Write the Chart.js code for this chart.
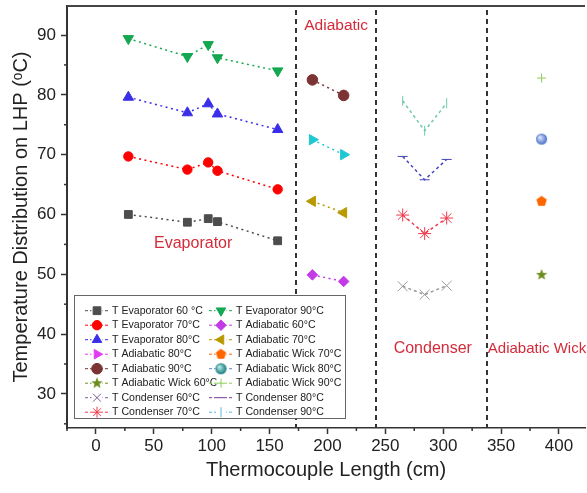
<!DOCTYPE html>
<html>
<head>
<meta charset="utf-8">
<script src="https://cdn.jsdelivr.net/npm/chart.js@4.4.0/dist/chart.umd.min.js"></script>
<style>
    html, body { margin: 0; padding: 0; background: #fff; }
</style>
</head>
<body>
<canvas id="myChart" width="587" height="493"></canvas>
<script>
// thermocouple positions (cm) in each section
const evapX = [28, 79, 97, 105, 157];
const adiaX = [187, 214];
const condX = [265, 284, 303];
const wickX = [385];

// temperatures (°C) for each heat source temperature
const evap60 = [60.0, 58.7, 59.3, 58.8, 55.6];
const evap70 = [69.7, 67.5, 68.7, 67.3, 64.2];
const evap80 = [79.6, 77.0, 78.5, 76.8, 74.2];
const evap90 = [89.4, 86.4, 88.4, 86.2, 84.0];

const adia60 = [49.9, 48.8];
const adia70 = [62.2, 60.3];
const adia80 = [72.5, 70.0];
const adia90 = [82.5, 79.9];

const wick60 = [49.9];
const wick70 = [62.2];
const wick80 = [72.6];
const wick90 = [82.8];

const cond60 = [48.0, 46.6, 48.1];
const cond70 = [59.9, 56.8, 59.4];
const cond80 = [69.7, 65.8, 69.2];
const cond90 = [79.0, 74.0, 78.6];

const xTicks = [0, 50, 100, 150, 200, 250, 300, 350, 400];
const yTicks = [30, 40, 50, 60, 70, 80, 90];
const sectionBounds = [173, 242, 338];
const sectionNames = ["Evaporator", "Adiabatic", "Condenser", "Adiabatic Wick"];

const FONT = "'Liberation Sans', Arial, sans-serif";

function makeMarker(size, draw) {
    const c = document.createElement("canvas");
    c.width = size;
    c.height = size;
    draw(c.getContext("2d"), size / 2);
    return c;
}

function pentagon(color, r) {
    return makeMarker(2 * r + 2, function (g, c) {
        g.fillStyle = color;
        g.beginPath();
        for (let i = 0; i < 5; i++) {
            const a = -Math.PI / 2 + i * 2 * Math.PI / 5;
            g.lineTo(c + r * Math.cos(a), c + r * Math.sin(a));
        }
        g.closePath();
        g.fill();
    });
}

function star(color, r) {
    return makeMarker(2 * r + 2, function (g, c) {
        g.fillStyle = color;
        g.beginPath();
        for (let i = 0; i < 10; i++) {
            const a = -Math.PI / 2 + i * Math.PI / 5;
            const rr = i % 2 ? r * 0.42 : r;
            g.lineTo(c + rr * Math.cos(a), c + rr * Math.sin(a));
        }
        g.closePath();
        g.fill();
    });
}

function sphere(light, dark, r) {
    return makeMarker(2 * r + 2, function (g, c) {
        const grad = g.createRadialGradient(c - r * 0.35, c - r * 0.35, 0.5, c, c, r);
        grad.addColorStop(0, light);
        grad.addColorStop(1, dark);
        g.fillStyle = grad;
        g.beginPath();
        g.arc(c, c, r, 0, Math.PI * 2);
        g.fill();
    });
}

function series(label, xs, ys, color, style, radius, extra) {
    const ds = {
        label: label,
        data: xs.map((x, i) => ({x: x, y: ys[i]})),
        borderColor: color,
        backgroundColor: color,
        pointBackgroundColor: color,
        pointBorderColor: color,
        pointBorderWidth: 1,
        pointStyle: style,
        pointRadius: radius,
        pointRotation: 0,
        showLine: xs.length > 1,
        borderWidth: 1.5,
        borderDash: [2, 3.5],
        legendColor: color
    };
    return Object.assign(ds, extra || {});
}

const datasets = [
    series("T Evaporator 60 \u00B0C", evapX, evap60, "#4d4d4d", "rect", 5.5),
    series("T Evaporator 70\u00B0C", evapX, evap70, "#ff0000", "circle", 4.7),
    series("T Evaporator 80\u00B0C", evapX, evap80, "#3b2ee8", "triangle", 6),
    series("T Evaporator 90\u00B0C", evapX, evap90, "#14a850", "triangle", 6, {pointRotation: 180}),
    series("T Adiabatic 60\u00B0C", adiaX, adia60, "#c23be6", "rectRot", 5.3),
    series("T Adiabatic 70\u00B0C", adiaX, adia70, "#b89a00", "triangle", 6, {pointRotation: 270}),
    series("T Adiabatic 80\u00B0C", adiaX, adia80, "#1ec8d2", "triangle", 6, {pointRotation: 90, legendColor: "#e23cf0"}),
    series("T Adiabatic 90\u00B0C", adiaX, adia90, "#7b3333", "circle", 5.3),
    series("T Adiabatic Wick 60\u00B0C", wickX, wick60, "#6b8e1f", star("#6b8e1f", 6), 6),
    series("T Adiabatic Wick 70\u00B0C", wickX, wick70, "#ff6600", pentagon("#ff6600", 5.5), 6),
    series("T Adiabatic Wick 80\u00B0C", wickX, wick80, "#5b82d6", sphere("#dfe8ff", "#4a6fc8", 5.5), 6,
        {legendStyle: sphere("#b8f0ee", "#167a7a", 5.5)}),
    series("T Adiabatic Wick 90\u00B0C", wickX, wick90, "#8ccf55", "cross", 4.5),
    series("T Condenser 60\u00B0C", condX, cond60, "#9a9a9a", "crossRot", 7, {borderDash: [3, 3], legendColor: "#7a5a9a"}),
    series("T Condenser 70\u00B0C", condX, cond70, "#ee3a4a", "star", 6.5, {borderDash: [3, 3]}),
    series("T Condenser 80\u00B0C", condX, cond80, "#4646c0", "line", 5, {borderDash: [3, 3], legendColor: "#7a3a9a"}),
    series("T Condenser 90\u00B0C", condX, cond90, "#6fcaa8", "line", 5, {pointRotation: 90, borderDash: [3, 3], legendColor: "#5ab8e0"})
];

// legend reads row by row, two columns
const legendOrder = [0, 3, 1, 4, 2, 5, 6, 9, 7, 10, 8, 11, 12, 14, 13, 15];

const legendBox = {
    id: "legendBox",
    afterDatasetsDraw(chart) {
        const ctx = chart.ctx;
        ctx.save();
        ctx.fillStyle = "#fff";
        ctx.fillRect(74, 295, 271, 123);
        ctx.strokeStyle = "#666";
        ctx.lineWidth = 1;
        ctx.strokeRect(74.5, 295.5, 271, 123);
        ctx.font = "10.6px " + FONT;
        ctx.textBaseline = "middle";
        legendOrder.forEach(function (idx, k) {
            const ds = chart.data.datasets[idx];
            const col = k % 2;
            const row = Math.floor(k / 2);
            const x0 = col ? 209 : 85;
            const y = 310.7 + row * 14.5;
            ctx.strokeStyle = ds.legendColor;
            ctx.lineWidth = 1;
            ctx.setLineDash([3, 2]);
            ctx.beginPath();
            ctx.moveTo(x0, y);
            ctx.lineTo(x0 + 24, y);
            ctx.stroke();
            ctx.setLineDash([]);
            const r = Math.min(ds.pointRadius, 5.5);
            ctx.fillStyle = "#fff";
            ctx.fillRect(x0 + 12 - r, y - r, 2 * r, 2 * r);
            ctx.fillStyle = ds.legendColor;
            Chart.helpers.drawPoint(ctx, {
                pointStyle: ds.legendStyle || ds.pointStyle,
                radius: r,
                rotation: ds.pointRotation,
                borderWidth: 1
            }, x0 + 12, y);
            ctx.fillStyle = "#222";
            ctx.fillText(ds.label, x0 + 27, y);
        });
        ctx.restore();
    }
};

const sections = {
    id: "sections",
    beforeDatasetsDraw(chart) {
        const ctx = chart.ctx;
        const xs = chart.scales.x;
        const ys = chart.scales.y;
        const area = chart.chartArea;
        ctx.save();
        ctx.strokeStyle = "#333";
        ctx.lineWidth = 2;
        ctx.setLineDash([5, 4]);
        sectionBounds.forEach(function (b) {
            const px = Math.round(xs.getPixelForValue(b));
            ctx.beginPath();
            ctx.moveTo(px, area.top + 4);
            ctx.lineTo(px, area.bottom);
            ctx.stroke();
        });
        ctx.setLineDash([]);
        ctx.fillStyle = "#d42b3a";
        ctx.textAlign = "center";
        ctx.textBaseline = "middle";
        const spots = [[84, 55.2, 16], [207.5, 91.5, 15.5], [291, 37.5, 16], [381, 37.5, 15]];
        sectionNames.forEach(function (name, i) {
            ctx.font = spots[i][2] + "px " + FONT;
            ctx.fillText(name, xs.getPixelForValue(spots[i][0]), ys.getPixelForValue(spots[i][1]));
        });
        ctx.restore();
    },
    afterDraw(chart) {
        const ctx = chart.ctx;
        const xs = chart.scales.x;
        const ys = chart.scales.y;
        const area = chart.chartArea;
        ctx.save();
        ctx.strokeStyle = "#333";
        ctx.lineWidth = 1.5;
        // minor ticks
        for (let v = -25; v <= xs.max; v += 50) {
            const px = xs.getPixelForValue(v);
            ctx.beginPath();
            ctx.moveTo(px, area.bottom);
            ctx.lineTo(px, area.bottom + 3);
            ctx.stroke();
        }
        for (let v = 25; v <= ys.max; v += 10) {
            const py = ys.getPixelForValue(v);
            ctx.beginPath();
            ctx.moveTo(area.left, py);
            ctx.lineTo(area.left - 3, py);
            ctx.stroke();
        }
        // top frame line
        ctx.strokeStyle = "#444";
        ctx.lineWidth = 2;
        ctx.beginPath();
        ctx.moveTo(area.left, area.top);
        ctx.lineTo(area.right, area.top);
        ctx.stroke();
        ctx.restore();
    }
};

const ctx = document.getElementById("myChart");

const myChart = new Chart(ctx, {
    type: "scatter",
    data: {datasets: datasets},
    options: {
        responsive: false,
        animation: false,
        devicePixelRatio: 1,
        layout: {autoPadding: false, padding: {top: 6, right: 2, left: 0, bottom: 0}},
        plugins: {
            legend: {display: false},
            tooltip: {enabled: false}
        },
        scales: {
            x: {
                type: "linear",
                min: -25,
                max: 422.5,
                afterBuildTicks: function (scale) {
                    scale.ticks = xTicks.map(v => ({value: v}));
                },
                afterFit: function (scale) {
                    scale.height = 65;
                    scale.paddingLeft = 0;
                    scale.paddingRight = 0;
                },
                border: {color: "#333", width: 1.5},
                grid: {drawOnChartArea: false, tickLength: 6, tickWidth: 1.5, tickColor: "#333"},
                ticks: {
                    color: "#222",
                    padding: 2,
                    maxRotation: 0,
                    autoSkip: false,
                    font: {family: FONT, size: 17}
                },
                title: {
                    display: true,
                    text: "Thermocouple Length (cm)",
                    color: "#222",
                    font: {family: FONT, size: 20},
                    padding: {top: 0, bottom: 11}
                }
            },
            y: {
                type: "linear",
                min: 24.3,
                max: 94.85,
                afterBuildTicks: function (scale) {
                    scale.ticks = yTicks.map(v => ({value: v}));
                },
                afterFit: function (scale) {
                    scale.width = 67;
                    scale.paddingTop = 0;
                    scale.paddingBottom = 0;
                },
                border: {color: "#333", width: 2},
                grid: {drawOnChartArea: false, tickLength: 6, tickWidth: 1.5, tickColor: "#333"},
                ticks: {
                    color: "#222",
                    padding: 5,
                    autoSkip: false,
                    font: {family: FONT, size: 17}
                },
                title: {
                    display: true,
                    text: "Temperature Distribution on LHP (\u1D52C)",
                    color: "#222",
                    font: {family: FONT, size: 20},
                    padding: {top: 9, bottom: 0}
                }
            }
        }
    },
    plugins: [sections, legendBox]
});
</script>
</body>
</html>
